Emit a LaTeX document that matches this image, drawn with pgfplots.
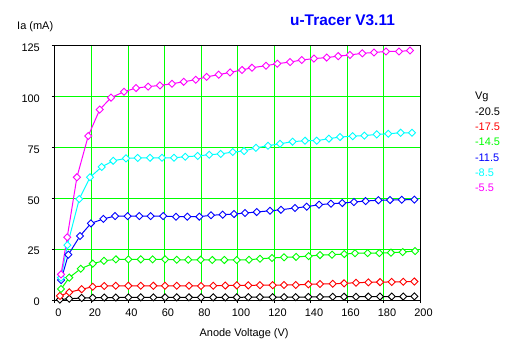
\documentclass[border=0pt]{standalone}
\usepackage{fontspec}
\setmainfont{Liberation Sans}
\newfontfamily\titlefont{Liberation Sans}[BoldFont={Liberation Sans Bold}]
\usepackage{pgfplots}
\pgfplotsset{compat=1.18}
\definecolor{vgreen}{RGB}{0,255,0}
\definecolor{vcyan}{RGB}{0,255,255}
\definecolor{vmag}{RGB}{255,0,255}
\definecolor{vblue}{RGB}{0,0,255}
\definecolor{vred}{RGB}{255,0,0}
\begin{document}
\begin{tikzpicture}
\useasboundingbox (-55bp,-52bp) rectangle (469bp,300bp);
\begin{axis}[
  at={(0,0)}, anchor=south west,
  scale only axis, width=365bp, height=254bp,
  xmin=0, xmax=200, ymin=0, ymax=125,
  xtick={0,20,...,200}, ytick={0,25,...,125},
  xtick pos=left, ytick pos=left,
  tick align=outside, major tick length=3bp,
  tick style={black, line width=1bp},
  grid=major, grid style={color=vgreen, line width=1bp},
  axis line style={black, line width=1bp},
  /pgf/number format/assume math mode=true,
  tick label style={font=\fontsize{11}{13}\selectfont},
  xticklabel style={anchor=base, yshift=-13.5bp, xshift=3.5bp},
  yticklabel style={anchor=east, inner sep=0pt, xshift=-12bp, yshift=-2bp},
  label style={font=\fontsize{11}{13}\selectfont, inner sep=0pt},
  xlabel={Anode Voltage (V)},
  xlabel style={at={(axis description cs:0.518,-0.143)}, anchor=base},
  ylabel={Ia (mA)},
  ylabel style={rotate=-90, at={(axis description cs:-0.104,1.065)}, anchor=base west},
  title={u-Tracer V3.11},
  title style={at={(axis description cs:0.7877,1.057)}, anchor=base, inner sep=0pt,
    font=\titlefont\bfseries\fontsize{15.5}{18}\selectfont, text=vblue},
  legend image code/.code={},
  legend cell align=left,
  legend style={at={(1.148,0.823)}, anchor=north west, draw=none, fill=none,
    inner sep=0pt, outer sep=0pt, row sep=3.3bp,
    font=\fontsize{11}{13}\selectfont,
    nodes={inner sep=1bp, text height=8bp, text depth=2bp}},
  every axis plot/.append style={line width=1bp, mark=square*,
    mark size=2.5bp, mark options={rotate=45, fill=white, solid, line width=0.9bp}},
]
\addlegendimage{empty legend}\addlegendentry{Vg}
\addplot[black] table {
2.7 0.2
7.8 0.6
14.6 1.0
20.7 1.1
27.0 1.2
33.3 1.2
40.2 1.3
47.0 1.3
53.9 1.3
60.3 1.3
66.7 1.3
73.4 1.3
80.0 1.3
86.7 1.3
93.3 1.3
99.6 1.3
105.9 1.4
112.3 1.4
119.3 1.4
125.5 1.4
131.9 1.4
138.8 1.5
145.2 1.5
152.2 1.6
158.4 1.6
164.9 1.6
171.7 1.7
178.1 1.7
184.5 1.7
190.8 1.7
196.9 1.8
};
\addlegendentry{-20.5}
\addplot[vred] table {
2.7 2.0
7.8 3.8
14.6 5.3
20.7 6.5
27.0 6.9
33.3 7.0
40.2 7.0
47.0 7.0
53.9 7.0
60.3 7.0
66.7 7.0
73.4 7.0
80.0 6.9
86.7 7.0
93.3 7.1
99.6 7.2
105.9 7.2
112.3 7.3
119.3 7.3
125.5 7.4
131.9 7.4
138.8 7.7
145.2 7.9
152.2 8.0
158.4 8.2
164.9 8.5
171.7 8.7
178.1 8.8
184.5 8.9
190.8 9.0
196.9 9.1
};
\addlegendentry{\textcolor{vred}{-17.5}}
\addplot[vgreen] table {
3.3 5.4
7.8 11.0
14.1 15.4
20.7 17.9
26.8 19.3
33.4 20.0
40.2 20.0
47.0 20.0
53.5 20.0
60.3 20.0
66.7 19.8
73.0 19.8
79.8 19.8
86.2 19.7
92.8 19.7
99.6 19.7
106.3 19.8
112.3 20.3
118.9 20.7
125.5 21.0
132.1 21.2
139.0 21.6
145.2 22.1
151.8 22.3
158.5 22.6
164.4 23.0
171.3 23.1
177.7 23.1
184.1 23.3
190.5 23.6
197.3 24.1
};
\addlegendentry{\textcolor{vgreen}{-14.5}}
\addplot[vblue] table {
3.3 9.8
7.3 22.3
13.7 31.5
19.7 37.7
26.5 39.9
32.9 41.3
39.8 41.3
46.2 41.3
52.4 41.3
59.3 41.3
66.3 41.0
72.5 41.0
79.1 41.0
85.5 41.7
91.9 42.0
98.1 42.3
104.1 42.8
110.5 43.3
117.8 43.9
123.8 44.4
131.5 45.3
137.9 45.9
144.7 46.9
151.2 47.4
157.4 47.7
163.8 48.2
170.2 48.7
177.2 49.1
183.6 49.2
190.0 49.3
196.9 49.4
};
\addlegendentry{\textcolor{vblue}{-11.5}}
\addplot[vcyan] table {
3.3 11.0
6.8 27.0
13.3 49.7
19.2 60.4
25.6 65.5
31.9 68.5
38.9 69.7
45.3 69.9
52.1 70.0
58.6 70.0
65.2 70.0
71.4 70.5
78.2 70.9
84.5 71.5
90.8 71.9
97.4 72.8
103.6 73.3
110.1 74.9
116.7 75.9
123.3 76.9
130.2 77.9
137.0 78.4
143.4 78.4
150.1 79.4
156.2 80.2
163.1 80.6
169.5 80.9
176.3 81.5
182.6 81.8
189.4 82.3
195.6 82.3
};
\addlegendentry{\textcolor{vcyan}{-8.5}}
\addplot[vmag] table {
3.3 12.6
6.7 30.9
12.0 60.4
18.2 80.7
24.5 93.7
30.7 99.6
37.8 102.5
44.4 104.3
51.0 105.0
57.5 105.6
64.1 106.4
70.5 107.4
77.1 108.4
83.1 109.8
89.7 110.9
95.9 112.0
102.5 113.2
107.9 114.3
115.6 115.3
121.8 116.3
128.8 117.1
135.2 118.1
141.9 118.8
148.9 119.3
155.2 120.0
161.6 120.6
168.4 121.4
174.8 121.8
181.4 122.3
188.5 122.3
194.5 122.8
};
\addlegendentry{\textcolor{vmag}{-5.5}}
\end{axis}
\end{tikzpicture}
\end{document}
